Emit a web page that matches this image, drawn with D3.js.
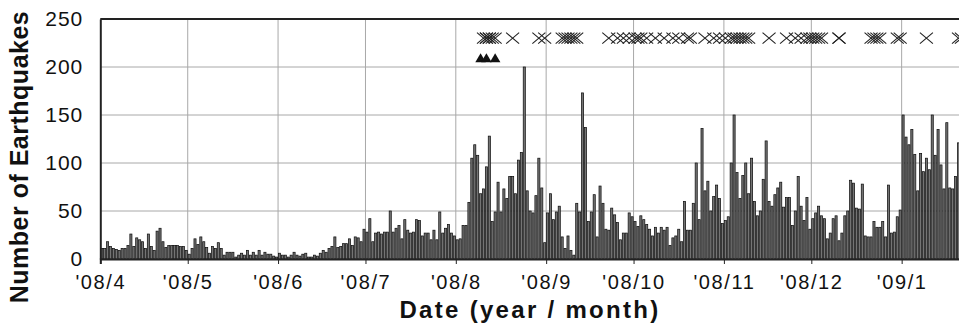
<!DOCTYPE html>
<html>
<head>
<meta charset="utf-8">
<script src="https://cdn.jsdelivr.net/npm/d3@7"></script>
<style>
  html, body { margin: 0; padding: 0; background: #fff; }
  svg { display: block; font-family: "Liberation Sans", Arial, sans-serif; }
</style>
</head>
<body>
<div id="chart"></div>
<script>
// daily counts, one array per month (first day = 2008-04-01)
const startDate = "2008-04-01";
const apr08 = [11,11,18,13,11,10,9,11,11,14,26,13,22,20,18,11,26,13,9,29,32,18,12,14,14,14,14,13,13,9];
const may08 = [5,11,21,15,23,18,12,6,13,11,17,11,4,7,7,7,2,4,6,4,9,4,7,4,9,4,7,5,5,3,2];
const jun08 = [6,4,4,2,4,7,4,3,5,6,2,2,4,3,6,9,7,11,13,23,12,13,16,16,21,14,23,22,18,31];
const jul08 = [28,42,18,27,28,26,28,28,50,28,32,35,21,41,30,27,28,41,40,24,27,27,20,30,20,49,27,32,36,27,24];
const aug08 = [20,21,35,35,59,105,119,108,68,73,96,128,39,49,80,49,73,63,86,86,68,103,111,200,71,50,48,66,105,74,17];
const sep08 = [48,68,41,49,55,23,11,24,9,4,58,49,173,137,39,49,67,23,76,58,31,30,53,46,38,20,27,27,48,44];
const oct08 = [39,34,45,41,36,31,24,33,27,33,30,33,14,22,24,31,18,60,30,30,58,100,41,136,71,81,50,65,77,63,37];
const nov08 = [40,44,100,150,90,63,87,100,68,105,60,45,50,83,123,60,55,67,74,80,54,64,64,35,50,86,55,40,64,31];
const dec08 = [42,48,55,45,42,21,27,42,45,19,27,45,50,82,79,53,52,78,24,23,23,39,33,33,39,23,77,27,28,44,51];
const jan09 = [150,127,119,135,109,71,110,91,105,93,150,108,135,98,73,142,74,73,86,121];

// event markers drawn above the bars
const crossDates = [
  "2008-08-10","2008-08-11","2008-08-11","2008-08-12","2008-08-12","2008-08-13","2008-08-14",
  "2008-08-20","2008-08-29","2008-08-31",
  "2008-09-06","2008-09-07","2008-09-08","2008-09-09","2008-09-10","2008-09-11",
  "2008-09-22","2008-09-25","2008-09-27","2008-09-29","2008-10-01","2008-10-02","2008-10-03",
  "2008-10-05","2008-10-08","2008-10-11","2008-10-14","2008-10-16","2008-10-19","2008-10-20",
  "2008-10-25","2008-10-28","2008-10-30","2008-11-01","2008-11-03","2008-11-04","2008-11-05",
  "2008-11-06","2008-11-07","2008-11-08","2008-11-09",
  "2008-11-16",
  "2008-11-22","2008-11-25","2008-11-27","2008-11-29","2008-11-30","2008-12-01","2008-12-02",
  "2008-12-03","2008-12-04",
  "2008-12-10","2008-12-10",
  "2008-12-21","2008-12-22","2008-12-23","2008-12-24",
  "2008-12-30","2008-12-31","2009-01-09","2009-01-20","2009-01-21"
];
const triangleDates = ["2008-08-09","2008-08-11","2008-08-14"];
const crossLevel = 230;
const triangleLevel = 208;

const yTicks = [0, 50, 100, 150, 200, 250];
const monthTicks = ["2008-04-01","2008-05-01","2008-06-01","2008-07-01","2008-08-01",
                    "2008-09-01","2008-10-01","2008-11-01","2008-12-01","2009-01-01"];

const parse = d3.utcParse("%Y-%m-%d");
const counts = [].concat(apr08, may08, jun08, jul08, aug08, sep08, oct08, nov08, dec08, jan09);
const t0 = parse(startDate);
const data = counts.map((v, i) => ({ date: d3.utcDay.offset(t0, i), value: v }));

const width = 959, height = 325;
const margin = { top: 19, left: 100.3, bottom: 66 };
const dayPx = 2.914;
const plotH = height - margin.top - margin.bottom;

const svg = d3.select("#chart").append("svg")
  .attr("width", width)
  .attr("height", height);

// plot runs past the right edge of the picture, like the reference
const endDate = parse("2009-02-01");
const x = d3.scaleUtc()
  .domain([t0, endDate])
  .range([margin.left, margin.left + d3.utcDay.count(t0, endDate) * dayPx]);

const y = d3.scaleLinear()
  .domain([0, 250])
  .range([margin.top + plotH, margin.top]);

const months = monthTicks.map(parse);

// grid
svg.append("g")
  .selectAll("line.hgrid")
  .data(yTicks.slice(1))
  .join("line")
  .attr("x1", margin.left).attr("x2", width)
  .attr("y1", d => y(d)).attr("y2", d => y(d))
  .attr("stroke", "#a8a8a8").attr("stroke-width", 1);

svg.append("g")
  .selectAll("line.vgrid")
  .data(months.slice(1))
  .join("line")
  .attr("x1", d => x(d)).attr("x2", d => x(d))
  .attr("y1", y(250)).attr("y2", y(0))
  .attr("stroke", "#a8a8a8").attr("stroke-width", 1);

// bars
const barW = dayPx * 0.72;
svg.append("g")
  .selectAll("rect")
  .data(data)
  .join("rect")
  .attr("x", d => x(d.date) + (dayPx - barW) / 2)
  .attr("y", d => y(d.value))
  .attr("width", barW)
  .attr("height", d => y(0) - y(d.value))
  .attr("fill", "#747474")
  .attr("stroke", "#111")
  .attr("stroke-width", 0.75);

// markers
const half = d => x(parse(d)) + dayPx / 2;
const cross = svg.append("g")
  .attr("stroke", "#222")
  .attr("stroke-width", 1.1)
  .attr("fill", "none");
crossDates.forEach(d => {
  const cx = half(d), cy = y(crossLevel);
  cross.append("path")
    .attr("d", `M${cx - 6.5},${cy - 5.5}L${cx + 6.5},${cy + 5.5}M${cx - 6.5},${cy + 5.5}L${cx + 6.5},${cy - 5.5}`);
});

svg.append("g")
  .selectAll("path")
  .data(triangleDates)
  .join("path")
  .attr("transform", d => `translate(${half(d)},${y(triangleLevel)})`)
  .attr("d", d3.symbol(d3.symbolTriangle, 48))
  .attr("fill", "#111");

// axes
const xAxis = svg.append("g")
  .attr("transform", `translate(0,${y(0)})`)
  .call(d3.axisBottom(x)
    .tickValues(months)
    .tickFormat(d3.utcFormat("'%y/%-m"))
    .tickSize(5)
    .tickPadding(11));
xAxis.select(".domain").attr("stroke", "#222").attr("stroke-width", 2);
xAxis.selectAll(".tick line").attr("stroke", "#222");
xAxis.selectAll("text")
  .attr("fill", "#111")
  .style("font-size", "20px")
  .style("letter-spacing", "1.6px");

const yAxis = svg.append("g")
  .attr("transform", `translate(${margin.left},0)`)
  .call(d3.axisLeft(y).tickValues(yTicks).tickSize(0).tickPadding(17));
yAxis.select(".domain").attr("stroke", "#222").attr("stroke-width", 2);
yAxis.selectAll("text")
  .attr("fill", "#111")
  .style("font-size", "21px")
  .style("letter-spacing", "1px");

// top frame line
svg.append("line")
  .attr("x1", margin.left).attr("x2", width)
  .attr("y1", y(250)).attr("y2", y(250))
  .attr("stroke", "#222").attr("stroke-width", 2);

// titles
svg.append("text")
  .attr("x", 530).attr("y", 318)
  .attr("text-anchor", "middle")
  .style("font-size", "24px")
  .style("font-weight", "bold")
  .style("letter-spacing", "2.3px")
  .attr("fill", "#111")
  .text("Date (year / month)");

svg.append("text")
  .attr("transform", "translate(28,157) rotate(-90)")
  .attr("text-anchor", "middle")
  .style("font-size", "25px")
  .style("font-weight", "bold")
  .style("letter-spacing", "0.5px")
  .attr("fill", "#111")
  .text("Number of Earthquakes");
</script>
</body>
</html>
